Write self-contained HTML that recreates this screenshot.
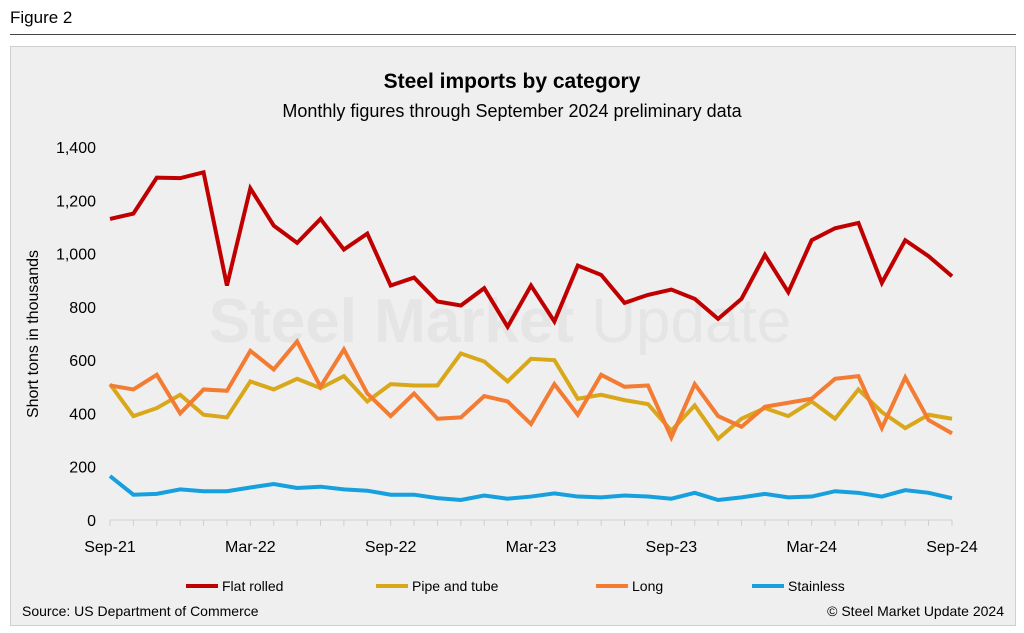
<!DOCTYPE html>
<html><head><meta charset="utf-8"><style>
body{margin:0;width:1024px;height:633px;background:#fff;font-family:"Liberation Sans",sans-serif;overflow:hidden;position:relative}
.fig{position:absolute;left:10px;top:8px;font-size:17px;color:#000}
.rule{position:absolute;left:10px;right:8px;top:34px;border-top:1px solid #444}
.panel{position:absolute;left:10px;top:46px;width:1004px;height:578px;background:#efefef;border:1px solid #cfcfcf}
</style></head><body>
<div class="fig">Figure 2</div>
<div class="rule"></div>
<div class="panel"></div>
<svg id="c" width="1024" height="633" style="position:absolute;left:0;top:0">
<text x="512" y="88" text-anchor="middle" font-size="21" font-weight="bold">Steel imports by category</text>
<text x="512" y="117" text-anchor="middle" font-size="18">Monthly figures through September 2024 preliminary data</text>
<text x="500" y="342" text-anchor="middle" font-size="62" font-weight="bold" fill="#e5e5e5">Steel Market <tspan font-weight="normal">Update</tspan></text>
<text transform="translate(38,334) rotate(-90)" text-anchor="middle" font-size="16">Short tons in thousands</text>
<g id="axes"></g><g id="lines"></g>
<g font-size="14">
<line x1="186" y1="586" x2="218" y2="586" stroke="#c00000" stroke-width="4"/><text x="222" y="591">Flat rolled</text>
<line x1="376" y1="586" x2="408" y2="586" stroke="#d9a71a" stroke-width="4"/><text x="412" y="591">Pipe and tube</text>
<line x1="596" y1="586" x2="628" y2="586" stroke="#f37b32" stroke-width="4"/><text x="632" y="591">Long</text>
<line x1="752" y1="586" x2="784" y2="586" stroke="#16a0de" stroke-width="4"/><text x="788" y="591">Stainless</text>
</g>
<text x="22" y="616" font-size="14">Source: US Department of Commerce</text>
<text x="1004" y="616" font-size="14" text-anchor="end">© Steel Market Update 2024</text>
</svg>
<script>
const xLabels=["Sep-21","Mar-22","Sep-22","Mar-23","Sep-23","Mar-24","Sep-24"];
const yTicks=[0,200,400,600,800,1000,1200,1400];
const flatRolled=[1130,1150,1285,1283,1305,880,1245,1105,1040,1130,1015,1075,880,910,820,805,870,725,880,745,955,920,815,845,865,830,755,830,995,855,1050,1095,1115,890,1050,990,915];
const pipeTube=[510,390,420,470,395,385,520,490,530,495,540,445,510,505,505,625,595,520,605,600,455,470,450,435,335,430,305,380,420,390,445,380,490,405,345,395,380];
const longP=[505,490,545,400,490,485,635,565,670,500,640,475,390,475,380,385,465,445,360,510,395,545,500,505,310,510,390,350,425,440,455,530,540,345,535,375,325];
const stainless=[165,95,98,115,108,108,122,135,120,125,115,110,95,95,82,75,92,80,88,100,88,85,92,88,80,102,75,85,98,85,88,108,102,88,112,102,82];
const X0=110,X1=952,Y0=520,Y1=147,N=flatRolled.length;
const x=i=>X0+(X1-X0)*i/(N-1);
const y=v=>Y0-(Y0-Y1)*v/1400;
const NS="http://www.w3.org/2000/svg";
const ax=document.getElementById('axes'),ln=document.getElementById('lines');
function mk(tag,attrs,parent){const e=document.createElementNS(NS,tag);for(const k in attrs)e.setAttribute(k,attrs[k]);parent.appendChild(e);return e;}
yTicks.forEach(v=>{const t=mk('text',{x:96,y:y(v)+6,'text-anchor':'end','font-size':16},ax);t.textContent=v.toLocaleString('en-US');

});
const base=mk('line',{x1:X0,x2:X1,y1:Y0,y2:Y0,stroke:'#cfcfcf','stroke-width':1},ax);


for(let i=0;i<N;i++){const tk=mk('line',{x1:x(i),x2:x(i),y1:Y0,y2:Y0+6,stroke:'#cfcfcf'},ax);

}
xLabels.forEach((l,k)=>{const t=mk('text',{x:x(k*6),y:Y0+32,'text-anchor':'middle','font-size':16},ax);t.textContent=l;

});
[[stainless,'#16a0de','stainless-line'],[pipeTube,'#d9a71a','pipe-tube-line'],[longP,'#f37b32','long-line'],[flatRolled,'#c00000','flat-rolled-line']].forEach(([d,c,n])=>{
const p=mk('polyline',{points:d.map((v,i)=>x(i)+','+y(v)).join(' '),fill:'none',stroke:c,'stroke-width':4,'stroke-linejoin':'miter'},ln);

});
</script>
</body></html>
